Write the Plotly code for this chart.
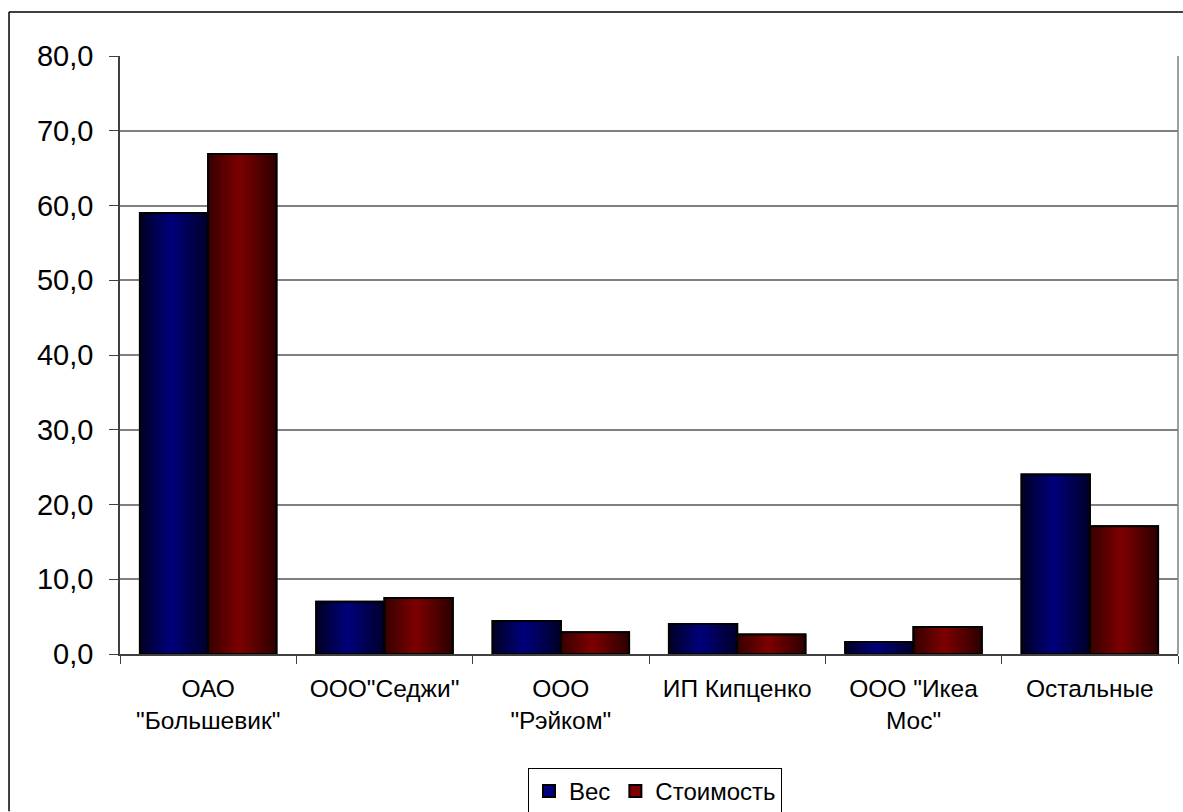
import plotly.graph_objects as go

categories = ['ОАО<br>"Большевик"', 'ООО"Седжи"', 'ООО<br>"Рэйком"',
              'ИП Кипценко', 'ООО "Икеа<br>Мос"', 'Остальные']
ves = [59.0, 7.0, 4.4, 4.0, 1.6, 24.0]
stoimost = [66.9, 7.5, 2.9, 2.6, 3.6, 17.1]
series_names = ["Вес", "Стоимость"]
y_ticks = [0, 10, 20, 30, 40, 50, 60, 70, 80]

BAR_W = 0.387
N = 12
PEAK = 0.46

series = [
    dict(name=series_names[0], y=ves, off=-BAR_W, bright=(0, 0, 128), dl=(0, 0, 40), dr=(0, 0, 44)),
    dict(name=series_names[1], y=stoimost, off=0.0, bright=(128, 0, 0), dl=(58, 0, 0), dr=(48, 0, 0)),
]


def mix(a, b, t):
    return "rgb(%d,%d,%d)" % tuple(round(a[i] + (b[i] - a[i]) * t) for i in range(3))


fig = go.Figure()
for s in series:
    fig.add_trace(go.Bar(x=categories, y=s["y"], name=s["name"], offset=s["off"], width=BAR_W,
                         marker=dict(color=mix(s["bright"], s["bright"], 0),
                                     line=dict(color="black", width=2)),
                         hoverinfo="skip"))
    L = PEAK * BAR_W
    R = (1 - PEAK) * BAR_W
    for k in range(N):
        frac = (N - k) / N
        t = (k + 1) / N
        fig.add_trace(go.Bar(x=categories, y=s["y"], offset=s["off"], width=L * frac,
                             marker=dict(color=mix(s["bright"], s["dl"], t), line=dict(width=0)),
                             showlegend=False, hoverinfo="skip"))
        fig.add_trace(go.Bar(x=categories, y=s["y"], offset=s["off"] + BAR_W - R * frac, width=R * frac,
                             marker=dict(color=mix(s["bright"], s["dr"], t), line=dict(width=0)),
                             showlegend=False, hoverinfo="skip"))
    fig.add_trace(go.Bar(x=categories, y=s["y"], offset=s["off"], width=BAR_W,
                         marker=dict(color="rgba(0,0,0,0)", line=dict(color="black", width=2)),
                         showlegend=False, hoverinfo="skip"))

fig.update_layout(
    width=1183, height=812,
    margin=dict(l=120, r=5, t=56, b=157.5, autoexpand=False),
    barmode="overlay",
    paper_bgcolor="white", plot_bgcolor="white",
    separators=", ",
    font=dict(family="Liberation Sans, Arial, sans-serif", color="black", size=24),
    showlegend=True,
    legend=dict(orientation="h", xref="container", yref="container",
                x=528 / 1183, xanchor="left", y=1 - 768 / 812, yanchor="top",
                bordercolor="black", borderwidth=1, bgcolor="white",
                font=dict(size=24), itemsizing="constant"),
    xaxis=dict(type="category", tickson="boundaries", ticks="outside", ticklen=8,
               tickcolor="#404040", showline=True, linecolor="#404040", linewidth=1.5,
               showgrid=False, tickfont=dict(size=24.5), range=[-0.5, 5.5],
               ticklabelstandoff=12),
    yaxis=dict(range=[0, 80], tickvals=y_ticks, tickformat=".1f", ticks="outside", ticklen=9,
               tickcolor="#404040", showline=True, linecolor="#404040", linewidth=1.5,
               gridcolor="#808080", gridwidth=1.5, zeroline=False, tickfont=dict(size=29),
               ticklabelstandoff=10),
    shapes=[
        dict(type="line", xref="paper", yref="paper", x0=1, x1=1, y0=0, y1=1,
             line=dict(color="#808080", width=1.5)),
        dict(type="line", xref="paper", yref="paper", x0=-0.1049, x1=-0.1049, y0=-0.2631, y1=1.0735,
             line=dict(color="black", width=1.5)),
        dict(type="line", xref="paper", yref="paper", x0=-0.1049, x1=1.0047, y0=1.0735, y1=1.0735,
             line=dict(color="black", width=1.5)),
    ],
)

post = (
    "document.documentElement.style.overflow='hidden';"
    "document.body.style.margin='0';document.body.style.overflow='hidden';"
)
fig.write_html("out.html", config={"displayModeBar": False}, post_script=post)
